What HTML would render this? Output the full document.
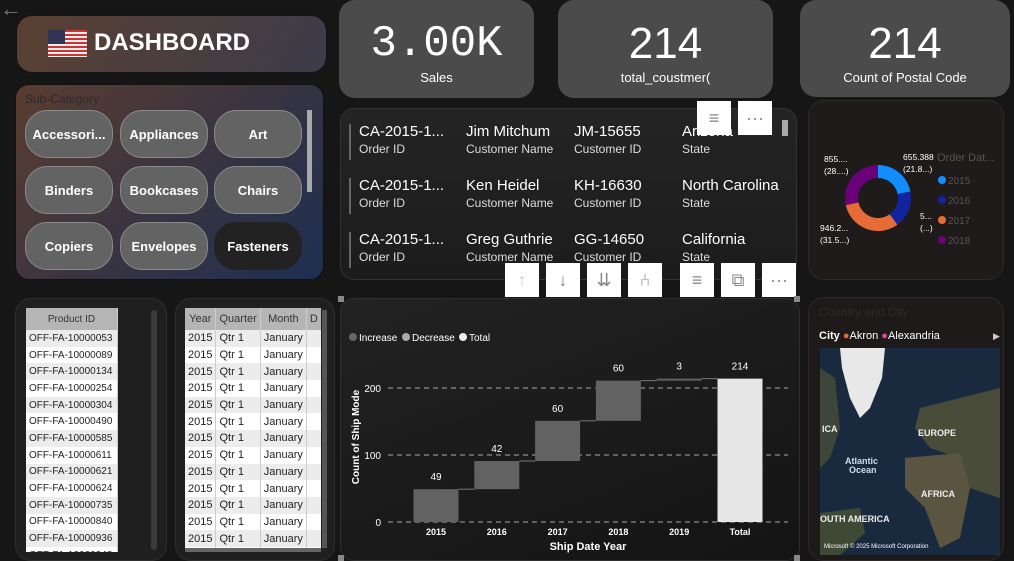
<!DOCTYPE html>
<html><head><meta charset="utf-8">
<style>
*{box-sizing:border-box;margin:0;padding:0}
body{width:1014px;height:561px;overflow:hidden;background:#161616;font-family:"Liberation Sans",sans-serif;position:relative;color:#fff}
.a{position:absolute}
.card{position:absolute;background:#4b4b4b;border-radius:16px;text-align:center}
.card .v{font-family:"Liberation Mono",monospace;font-size:44px;color:#fff;margin-top:20px;line-height:48px}
.card .l{font-size:13px;color:#fff;margin-top:2px}
.btn{position:absolute;width:88px;height:48px;border-radius:22px;background:#636363;border:1px solid #8a8a8a;color:#fff;font-weight:bold;font-size:13px;display:flex;align-items:center;justify-content:center}
.tb{position:absolute;width:34px;height:34px;background:#fff;color:#888;font-size:18px;display:flex;align-items:center;justify-content:center}
.mr{position:absolute;font-size:15px;color:#fff}
.mr small{display:block;font-size:12px;color:#ddd;margin-top:2px}
table{border-collapse:collapse;font-size:10px;color:#222}
td,th{height:16.7px;padding:0 3px;white-space:nowrap;border-right:1px solid #ccc}
th{background:#b5b5b5;font-weight:normal;height:22px;color:#333}
tr:nth-child(even) td{background:#ececec}
tr:nth-child(odd) td{background:#fff}
</style></head><body>
<div class="a" style="left:0;top:0;color:#777;font-size:22px;line-height:18px">←</div>

<div class="a" style="left:16px;top:15px;width:311px;height:58px;border-radius:16px;background:linear-gradient(120deg,#5a4032,#3c3c4a);border:1px solid #111"></div>
<div class="a" style="left:48px;top:30px;width:39px;height:27px;background:repeating-linear-gradient(#c33 0 2px,#eee 2px 4px)"><div style="width:17px;height:14px;background:#335"></div></div>
<div class="a" style="left:94px;top:29px;font-size:24px;font-weight:bold">DASHBOARD</div>

<div class="a" style="left:15px;top:84px;width:309px;height:196px;border-radius:14px;background:linear-gradient(135deg,#5a3d30,#3a3440 50%,#1e2f52);border:1px solid #111"></div>
<div class="a" style="left:25px;top:92px;font-size:12px;color:#2a2a2a">Sub-Category</div>
<div class="btn" style="left:25px;top:110px">Accessori...</div>
<div class="btn" style="left:120px;top:110px">Appliances</div>
<div class="btn" style="left:214px;top:110px">Art</div>
<div class="btn" style="left:25px;top:166px">Binders</div>
<div class="btn" style="left:120px;top:166px">Bookcases</div>
<div class="btn" style="left:214px;top:166px">Chairs</div>
<div class="btn" style="left:25px;top:222px">Copiers</div>
<div class="btn" style="left:120px;top:222px">Envelopes</div>
<div class="btn" style="left:214px;top:222px;background:#222;border-color:#222">Fasteners</div>
<div class="a" style="left:307px;top:110px;width:5px;height:82px;background:#aaa"></div>

<div class="card" style="left:339px;top:0;width:195px;height:98px"><div class="v">3.00K</div><div class="l">Sales</div></div>
<div class="card" style="left:558px;top:0;width:215px;height:98px"><div class="v" style="font-family:'Liberation Sans'">214</div><div class="l">total_coustmer(</div></div>
<div class="card" style="left:800px;top:0;width:210px;height:97px"><div class="v" style="font-family:'Liberation Sans'">214</div><div class="l">Count of Postal Code</div></div>

<div class="a" style="left:340px;top:108px;width:457px;height:172px;border-radius:14px;background:linear-gradient(180deg,#242424,#1c1c1c);border:1px solid #333"></div>
<div class="a" style="left:349px;top:124px;width:2px;height:36px;background:#666"></div>
<div class="a" style="left:349px;top:178px;width:2px;height:36px;background:#666"></div>
<div class="a" style="left:349px;top:232px;width:2px;height:36px;background:#666"></div>
<div class="mr" style="left:359px;top:123px">CA-2015-1...<small>Order ID</small></div>
<div class="mr" style="left:466px;top:123px">Jim Mitchum<small>Customer Name</small></div>
<div class="mr" style="left:574px;top:123px">JM-15655<small>Customer ID</small></div>
<div class="mr" style="left:682px;top:123px">Arizona<small>State</small></div>
<div class="mr" style="left:359px;top:177px">CA-2015-1...<small>Order ID</small></div>
<div class="mr" style="left:466px;top:177px">Ken Heidel<small>Customer Name</small></div>
<div class="mr" style="left:574px;top:177px">KH-16630<small>Customer ID</small></div>
<div class="mr" style="left:682px;top:177px">North Carolina<small>State</small></div>
<div class="mr" style="left:359px;top:231px">CA-2015-1...<small>Order ID</small></div>
<div class="mr" style="left:466px;top:231px">Greg Guthrie<small>Customer Name</small></div>
<div class="mr" style="left:574px;top:231px">GG-14650<small>Customer ID</small></div>
<div class="mr" style="left:682px;top:231px">California<small>State</small></div>
<div class="a" style="left:782px;top:120px;width:6px;height:16px;background:#aaa"></div>

<div class="tb" style="left:697px;top:101px">≡</div>
<div class="tb" style="left:738px;top:101px">···</div>
<div class="tb" style="left:505px;top:263px;color:#ccc">↑</div>
<div class="tb" style="left:546px;top:263px">↓</div>
<div class="tb" style="left:587px;top:263px">⇊</div>
<div class="tb" style="left:628px;top:263px">⑃</div>
<div class="tb" style="left:680px;top:263px">≡</div>
<div class="tb" style="left:721px;top:263px">⧉</div>
<div class="tb" style="left:762px;top:263px">···</div>

<div class="a" style="left:808px;top:100px;width:196px;height:180px;border-radius:16px;background:#1e1b1a;border:1px solid #2a2a2a"></div>
<svg class="a" style="left:808px;top:100px" width="206" height="180" id="donut"></svg>

<div class="a" style="left:808px;top:297px;width:196px;height:264px;border-radius:16px;background:#1d1a19;border:1px solid #2a2a2a"></div>
<div class="a" style="left:819px;top:305px;font-size:12px;color:#2c2c2c">Country and City</div>
<div class="a" style="left:819px;top:330px;font-size:11px;color:#fff"><b>City</b> <span style="color:#e66c37">●</span>Akron <span style="color:#e044a7">●</span>Alexandria</div>
<div class="a" style="left:993px;top:331px;font-size:9px;color:#ccc">▶</div>
<svg class="a" style="left:820px;top:348px" width="180" height="207">
<rect width="180" height="207" fill="#1a2a3e"/>
<path d="M20 0 L65 0 L62 30 L50 60 L40 70 L30 50 L22 20Z" fill="#e8e8e8"/>
<path d="M0 20 L15 30 L20 80 L10 110 L0 120Z" fill="#3d4638"/>
<path d="M100 60 L180 40 L180 150 L150 140 L140 110 L110 100 L95 80Z" fill="#4a4c3a"/>
<path d="M85 110 L140 105 L150 140 L140 190 L120 200 L105 160 L85 140Z" fill="#5a5440"/>
<path d="M0 165 L40 160 L45 185 L20 207 L0 207Z" fill="#3f4a36"/>
<text x="2" y="84" fill="#eee" font-size="9" font-weight="bold">ICA</text>
<text x="98" y="88" fill="#eee" font-size="9" font-weight="bold">EUROPE</text>
<text x="25" y="116" fill="#cde" font-size="9" font-weight="bold">Atlantic</text>
<text x="29" y="125" fill="#cde" font-size="9" font-weight="bold">Ocean</text>
<text x="101" y="149" fill="#eee" font-size="9" font-weight="bold">AFRICA</text>
<text x="0" y="174" fill="#eee" font-size="9" font-weight="bold">OUTH AMERICA</text>
<text x="4" y="200" fill="#fff" font-size="6">Microsoft  © 2025 Microsoft Corporation</text>
</svg>

<div class="a" style="left:15px;top:298px;width:152px;height:263px;border-radius:16px;background:#1f1f1f;border:1px solid #2e2e2e"></div>
<div class="a" style="left:26px;top:308px;width:92px;height:244px;overflow:hidden;background:#fff">
<table style="width:92px"><tr><th>Product ID</th></tr>
<tr><td>OFF-FA-10000053</td></tr><tr><td>OFF-FA-10000089</td></tr><tr><td>OFF-FA-10000134</td></tr><tr><td>OFF-FA-10000254</td></tr><tr><td>OFF-FA-10000304</td></tr><tr><td>OFF-FA-10000490</td></tr><tr><td>OFF-FA-10000585</td></tr><tr><td>OFF-FA-10000611</td></tr><tr><td>OFF-FA-10000621</td></tr><tr><td>OFF-FA-10000624</td></tr><tr><td>OFF-FA-10000735</td></tr><tr><td>OFF-FA-10000840</td></tr><tr><td>OFF-FA-10000936</td></tr><tr><td>OFF-FA-10000948</td></tr></table></div>
<div class="a" style="left:151px;top:310px;width:6px;height:240px;border-radius:3px;background:#3a3a3a"></div>

<div class="a" style="left:175px;top:298px;width:160px;height:263px;border-radius:16px;background:#1f1f1f;border:1px solid #2e2e2e"></div>
<div class="a" style="left:185px;top:308px;width:136px;height:240px;overflow:hidden;background:#fff">
<table style="font-size:11px"><tr><th>Year</th><th>Quarter</th><th>Month</th><th>D</th></tr>
<tr><td>2015</td><td>Qtr 1</td><td>January</td><td></td></tr><tr><td>2015</td><td>Qtr 1</td><td>January</td><td></td></tr><tr><td>2015</td><td>Qtr 1</td><td>January</td><td></td></tr><tr><td>2015</td><td>Qtr 1</td><td>January</td><td></td></tr><tr><td>2015</td><td>Qtr 1</td><td>January</td><td></td></tr><tr><td>2015</td><td>Qtr 1</td><td>January</td><td></td></tr><tr><td>2015</td><td>Qtr 1</td><td>January</td><td></td></tr><tr><td>2015</td><td>Qtr 1</td><td>January</td><td></td></tr><tr><td>2015</td><td>Qtr 1</td><td>January</td><td></td></tr><tr><td>2015</td><td>Qtr 1</td><td>January</td><td></td></tr><tr><td>2015</td><td>Qtr 1</td><td>January</td><td></td></tr><tr><td>2015</td><td>Qtr 1</td><td>January</td><td></td></tr><tr><td>2015</td><td>Qtr 1</td><td>January</td><td></td></tr><tr><td>2015</td><td>Qtr 1</td><td>January</td><td></td></tr></table></div>
<div class="a" style="left:322px;top:310px;width:5px;height:238px;background:#555"></div>
<div class="a" style="left:185px;top:548px;width:136px;height:4px;background:#666"></div>

<div class="a" style="left:340px;top:298px;width:460px;height:263px;border-radius:14px;background:linear-gradient(160deg,#222,#141414);border:1px solid #2e2e2e"></div>
<svg class="a" style="left:0;top:0" width="1014" height="561" id="wf"></svg>

<script>
const categories=["2015","2016","2017","2018","2019"];
const increments=[49,42,60,60,3];
const totalLabel="Total";
const yTicks=[0,100,200];
const donutYears=["2015","2016","2017","2018"];
const donutValues=[655.388,546,946.2,855];
const donutColors=["#118dff","#12239e","#e66c37","#6b007b"];

const NS="http://www.w3.org/2000/svg";
function mk(p,t,a,txt){const e=document.createElementNS(NS,t);for(const k in a)e.setAttribute(k,a[k]);if(txt!=null)e.textContent=txt;p.appendChild(e);return e;}
const wf=document.getElementById('wf');
const y0=522,pxPer=0.67;
function Y(v){return y0-v*pxPer;}
const allCats=categories.concat([totalLabel]);
function X(i){return 436+i*60.8;}
const bw=45;
yTicks.forEach(t=>{
 const g=mk(wf,'line',{x1:388,x2:788,y1:Y(t),y2:Y(t),stroke:'#aaa','stroke-dasharray':'5,4','stroke-width':1});
 
 
 const l=mk(wf,'text',{x:381,y:Y(t)+4,'text-anchor':'end',fill:'#fff','font-size':10},t);
 
 
});
let cum=0;
increments.forEach((v,i)=>{
 const top=Y(cum+v),bot=Y(cum);
 const r=mk(wf,'rect',{x:X(i)-bw/2,y:top,width:bw,height:bot-top,fill:'#626262'});
 
 
 mk(wf,'line',{x1:X(i)+bw/2,x2:X(i+1)-bw/2,y1:top,y2:top,stroke:'#777','stroke-width':1});
 const lb=mk(wf,'text',{x:X(i),y:top-9,'text-anchor':'middle',fill:'#fff','font-size':10},String(v));
 
 
 cum+=v;
});
const ti=categories.length;
const tr=mk(wf,'rect',{x:X(ti)-bw/2,y:Y(cum),width:bw,height:y0-Y(cum),fill:'#e6e6e6'});


const tl=mk(wf,'text',{x:X(ti),y:Y(cum)-9,'text-anchor':'middle',fill:'#fff','font-size':10},String(cum));


allCats.forEach((c,i)=>{
 const t=mk(wf,'text',{x:X(i),y:535,'text-anchor':'middle',fill:'#fff','font-size':9,'font-weight':'bold'},c);
 
 
});
const xt=mk(wf,'text',{x:588,y:550,'text-anchor':'middle',fill:'#fff','font-size':11,'font-weight':'bold'},'Ship Date Year');


const yt=mk(wf,'text',{x:0,y:0,transform:'translate(359,437) rotate(-90)','text-anchor':'middle',fill:'#fff','font-size':10,'font-weight':'bold'},'Count of Ship Mode');


[['Increase','#666',349],['Decrease','#aaa',402],['Total','#eee',459]].forEach(([n,c,x])=>{
 mk(wf,'circle',{cx:x+4,cy:337,r:4,fill:c});
 const t=mk(wf,'text',{x:x+10,y:341,fill:'#fff','font-size':10},n);
 
 
});
[[340,298],[796,298],[340,557],[796,557]].forEach(([x,y])=>mk(wf,'rect',{x:x-2,y:y-2,width:6,height:6,fill:'#888'}));

const dn=document.getElementById('donut');
const cx=70,cy=98,R=33,r0=20;
const tot=donutValues.reduce((a,b)=>a+b,0);
let ang=-Math.PI/2;
donutValues.forEach((v,i)=>{
 const a2=ang+v/tot*2*Math.PI;
 const lg=(a2-ang)>Math.PI?1:0;
 const p=`M${cx+R*Math.cos(ang)},${cy+R*Math.sin(ang)} A${R},${R} 0 ${lg} 1 ${cx+R*Math.cos(a2)},${cy+R*Math.sin(a2)} L${cx+r0*Math.cos(a2)},${cy+r0*Math.sin(a2)} A${r0},${r0} 0 ${lg} 0 ${cx+r0*Math.cos(ang)},${cy+r0*Math.sin(ang)}Z`;
 const s=mk(dn,'path',{d:p,fill:donutColors[i]});
 
 
 ang=a2;
});
mk(dn,'text',{x:95,y:60,fill:'#fff','font-size':8.5},'655.388');
mk(dn,'text',{x:95,y:72,fill:'#fff','font-size':8.5},'(21.8...)');
mk(dn,'text',{x:16,y:62,fill:'#fff','font-size':8.5},'855....');
mk(dn,'text',{x:16,y:74,fill:'#fff','font-size':8.5},'(28....)');
mk(dn,'text',{x:12,y:131,fill:'#fff','font-size':8.5},'946.2...');
mk(dn,'text',{x:12,y:143,fill:'#fff','font-size':8.5},'(31.5...)');
mk(dn,'text',{x:112,y:119,fill:'#fff','font-size':8.5},'5...');
mk(dn,'text',{x:112,y:131,fill:'#fff','font-size':8.5},'(...)');
mk(dn,'text',{x:129,y:61,fill:'#555','font-size':11},'Order Dat...');
donutYears.forEach((y,i)=>{
 mk(dn,'circle',{cx:134,cy:80+i*20,r:4,fill:donutColors[i]});
 const t=mk(dn,'text',{x:140,y:84+i*20,fill:'#555','font-size':10},y);
 
 
});
</script>
</body></html>
